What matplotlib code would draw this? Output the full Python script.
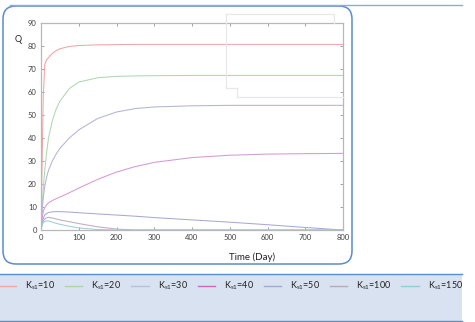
import numpy as np
import matplotlib
matplotlib.use('Agg')
import matplotlib.pyplot as plt
from matplotlib.patches import FancyBboxPatch, Rectangle
from matplotlib.lines import Line2D

plt.rcParams['font.family'] = ['Lato', 'DejaVu Sans']
plt.rcParams['mathtext.fontset'] = 'custom'
plt.rcParams['mathtext.rm'] = 'Lato'

# time grid (day) and Q for each Ks1 value
t = [0, 3, 6, 10, 15, 20, 30, 40, 50, 75, 100, 150, 200, 250, 300, 400, 500, 600, 700, 800]
q_ks10 = [0, 30, 58, 72, 74, 75, 76.8, 78, 78.8, 79.8, 80.2, 80.5, 80.6, 80.7, 80.7, 80.7, 80.7, 80.7, 80.7, 80.7]
q_ks20 = [0, 10, 18, 26, 34, 40, 47.5, 52.5, 56, 61.5, 64.3, 66.2, 66.8, 67, 67.1, 67.2, 67.2, 67.2, 67.2, 67.2]
q_ks30 = [0, 8, 14, 19, 23, 26, 30, 33, 35.5, 40, 43.5, 48.5, 51.3, 52.8, 53.5, 54, 54.2, 54.2, 54.2, 54.2]
q_ks40 = [0, 5, 8, 9.8, 11, 11.8, 12.8, 13.6, 14.3, 16.2, 18.2, 22, 25.2, 27.6, 29.4, 31.5, 32.5, 33, 33.2, 33.3]
q_ks50 = [0, 3, 5, 6.5, 7.2, 7.6, 7.9, 8, 8, 7.8, 7.5, 7, 6.5, 6, 5.4, 4.4, 3.4, 2.3, 1.1, 0]
q_ks100 = [0, 2.5, 4, 4.8, 5.3, 5.5, 5.2, 4.8, 4.4, 3.6, 2.8, 1.4, 0.4, 0, 0, 0, 0, 0, 0, 0]
q_ks150 = [0, 2, 3.2, 3.7, 4, 3.9, 3.4, 2.9, 2.5, 1.6, 0.9, 0.2, 0, 0, 0, 0, 0, 0, 0, 0]

ks_values = [10, 20, 30, 40, 50, 100, 150]
series = [q_ks10, q_ks20, q_ks30, q_ks40, q_ks50, q_ks100, q_ks150]
colors = ['#f3a4a4', '#aed8b4', '#b4b4d4', '#d49ad4', '#a8a8d8', '#bcaec0', '#9ccfd6']

W, H = 475, 322
fig = plt.figure(figsize=(W / 100, H / 100), dpi=100)

def fx(px):
    return px / W

def fy(py):
    return 1 - py / H

# outer rounded frame + top rule
fig.add_artist(FancyBboxPatch((0.03, 0.58), 3.49, 2.58,
                              boxstyle='round,pad=0,rounding_size=0.13',
                              transform=fig.dpi_scale_trans,
                              fc='none', ec='#5b8bd0', lw=1.1))
fig.add_artist(Line2D([0.10, 4.62], [3.17, 3.17], transform=fig.dpi_scale_trans,
                      color='#8faadc', lw=1))

# legend band
fig.add_artist(Rectangle((0, 0.01), 4.62, 0.47, transform=fig.dpi_scale_trans,
                         fc='#d8e2f0', ec='none'))
for yy in [0.48, 0.01]:
    fig.add_artist(Line2D([0, 4.62], [yy, yy], transform=fig.dpi_scale_trans,
                          color='#5b8bd0', lw=1))

ax = fig.add_axes([fx(41), fy(230), fx(343) - fx(41), fy(23) - fy(230)])
for q, c in zip(series, colors):
    ax.plot(t, q, color=c, lw=0.75)

ax.set_xlim(0, 800)
ax.set_ylim(0, 90)
ax.set_xticks(np.arange(0, 801, 100))
ax.set_yticks(np.arange(0, 91, 10))
ax.tick_params(direction='in', length=2, width=0.6, colors='#909090',
               labelsize=5.5, labelcolor='#404040', top=True, right=True, pad=3)
for s in ax.spines.values():
    s.set_color('#b8b8b8')
    s.set_linewidth(0.9)

fig.text(fx(18), fy(39), 'Q', fontsize=6.5, ha='center', va='center', color='#222222')
fig.text(fx(252), fy(257), 'Time (Day)', fontsize=7, ha='center', va='center', color='#222222')

# faint empty legend outline left in the plot
ol = '#e8e8e8'
for xs, ys in [([226, 334], [14, 14]), ([334, 334], [14, 23]), ([226, 226], [14, 88]),
               ([226, 237], [88, 88]), ([237, 237], [88, 97]), ([237, 343], [97, 97])]:
    fig.add_artist(Line2D([fx(v) for v in xs], [fy(v) for v in ys], color=ol, lw=0.9))

legend_colors = ['#f0a8a8', '#a8d8a8', '#b8c0dc', '#cc66cc', '#a0a8d8', '#b8a8b8', '#90d0d8']
handles = [Line2D([], [], color=c, lw=1) for c in legend_colors]
labels = [r'K$_{\mathrm{s1}}$=%d' % k for k in ks_values]
fig.legend(handles, labels, ncol=7, loc='center', bbox_to_anchor=(fx(231), fy(286)),
           frameon=False, fontsize=6.5, handlelength=1.9, handletextpad=1.0,
           columnspacing=1.1, labelcolor='#222222')

fig.savefig('out.png', dpi=100)
